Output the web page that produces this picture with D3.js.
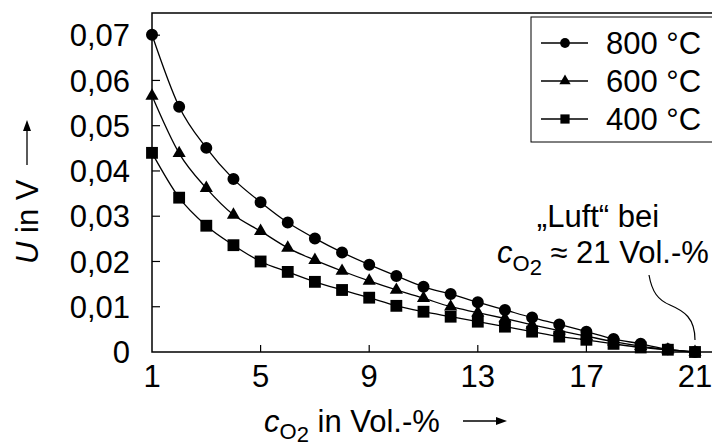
<!DOCTYPE html>
<html>
<head>
<meta charset="utf-8">
<script src="https://cdn.jsdelivr.net/npm/d3@7"></script>
<style>
  body { margin: 0; background: #fff; }
  svg { display: block; font-family: "Liberation Sans", Arial, sans-serif; }
</style>
</head>
<body>
<svg width="712" height="445"></svg>
<script>
// O2 concentration in Vol.-%
var conc = [1,2,3,4,5,6,7,8,9,10,11,12,13,14,15,16,17,18,19,20,21];
var u800 = [0.0701,0.0542,0.0451,0.0382,0.0331,0.0286,0.0251,0.0220,0.0193,0.0168,0.0144,0.0128,0.0110,0.0093,0.0076,0.0061,0.0045,0.0029,0.0018,0.0006,0];
var u600 = [0.0566,0.0439,0.0362,0.0303,0.0267,0.0230,0.0203,0.0179,0.0157,0.0137,0.0119,0.0100,0.0087,0.0074,0.0060,0.0047,0.0035,0.0023,0.0013,0.0005,0];
var u400 = [0.0440,0.0341,0.0279,0.0236,0.0200,0.0177,0.0155,0.0137,0.0120,0.0102,0.0089,0.0078,0.0067,0.0056,0.0045,0.0034,0.0027,0.0018,0.0010,0.0005,0];
var seriesNames = ["800 °C", "600 °C", "400 °C"];
var xTicks = [1,5,9,13,17,21];
var yTicks = [0,0.01,0.02,0.03,0.04,0.05,0.06,0.07];

var svg = d3.select('svg');
var mLeft = 152, mRight = 695, mTop = 13, mBottom = 352;
var fs = 31;

var x = d3.scaleLinear().domain([1, 21]).range([mLeft, mRight]);
var y = d3.scaleLinear().domain([0, 0.0749]).range([mBottom, mTop]);

var series = [
  {name: seriesNames[0], values: u800, shape: d3.symbolCircle, size: 113, lsize: 75},
  {name: seriesNames[1], values: u600, shape: d3.symbolTriangle, size: 75, lsize: 55},
  {name: seriesNames[2], values: u400, shape: d3.symbolSquare, size: 140, lsize: 85}
];

// frame (right side runs off the picture)
svg.append('path')
  .attr('d', 'M730,' + mTop + 'H' + mLeft + 'V' + mBottom + 'H730')
  .attr('fill', 'none')
  .attr('stroke', '#000')
  .attr('stroke-width', 1.5);

// y ticks point inward
svg.selectAll('.ytick')
  .data(yTicks.slice(1))
  .enter()
  .append('line')
  .attr('x1', mLeft).attr('x2', mLeft + 8)
  .attr('y1', d => y(d)).attr('y2', d => y(d))
  .attr('stroke', '#000').attr('stroke-width', 1.2);

svg.selectAll('.ylab')
  .data(yTicks)
  .enter()
  .append('text')
  .attr('x', 130)
  .attr('y', d => y(d))
  .attr('dy', '0.36em')
  .attr('text-anchor', 'end')
  .attr('font-size', fs)
  .text(d => d == 0 ? '0' : d3.format('.2f')(d).replace('.', ','));

svg.selectAll('.xtick')
  .data(xTicks.slice(1, -1))
  .enter()
  .append('line')
  .attr('x1', d => x(d)).attr('x2', d => x(d))
  .attr('y1', mBottom).attr('y2', mBottom - 7)
  .attr('stroke', '#000').attr('stroke-width', 1.2);

svg.selectAll('.xlab')
  .data(xTicks)
  .enter()
  .append('text')
  .attr('x', d => x(d))
  .attr('y', 387)
  .attr('text-anchor', 'middle')
  .attr('font-size', fs)
  .text(d => d);

// curves
var line = d3.line()
  .x((d, i) => x(conc[i]))
  .y(d => y(d))
  .curve(d3.curveMonotoneX);

series.forEach(function(s) {
  svg.append('path')
    .attr('d', line(s.values))
    .attr('fill', 'none')
    .attr('stroke', '#000')
    .attr('stroke-width', 1.3);
});

series.forEach(function(s) {
  svg.append('g')
    .selectAll('path')
    .data(s.values)
    .enter()
    .append('path')
    .attr('d', d3.symbol().type(s.shape).size(s.size))
    .attr('transform', (d, i) => 'translate(' + x(conc[i]) + ',' + y(d) + ')')
    .attr('fill', '#000');
});

// legend
var lg = svg.append('g');
lg.append('rect')
  .attr('x', 531).attr('y', 17)
  .attr('width', 200).attr('height', 125)
  .attr('fill', '#fff')
  .attr('stroke', '#000').attr('stroke-width', 1);
series.forEach(function(s, i) {
  var ly = 43 + i * 38;
  lg.append('line')
    .attr('x1', 541).attr('x2', 588)
    .attr('y1', ly).attr('y2', ly)
    .attr('stroke', '#000').attr('stroke-width', 1.3);
  lg.append('path')
    .attr('d', d3.symbol().type(s.shape).size(s.lsize))
    .attr('transform', 'translate(565,' + ly + ')')
    .attr('fill', '#000');
  lg.append('text')
    .attr('x', 606).attr('y', ly)
    .attr('dy', '0.36em')
    .attr('font-size', fs)
    .text(s.name);
});

// axis titles
var xt = svg.append('text')
  .attr('x', 264).attr('y', 432)
  .attr('font-size', fs);
xt.append('tspan').attr('font-style', 'italic').text('c');
xt.append('tspan').attr('font-size', 22).attr('dy', 7).text('O');
xt.append('tspan').attr('font-size', 22).attr('dy', 3).text('2');
xt.append('tspan').attr('dy', -10).text(' in Vol.-%');

svg.append('line')
  .attr('x1', 463).attr('x2', 498)
  .attr('y1', 421).attr('y2', 421)
  .attr('stroke', '#000').attr('stroke-width', 1.3);
svg.append('path')
  .attr('d', 'M507,421 L496,417 L496,425 Z')
  .attr('fill', '#000');

var yt = svg.append('g').attr('transform', 'translate(38,264) rotate(-90)');
var ytt = yt.append('text').attr('x', 0).attr('y', 0).attr('font-size', fs);
ytt.append('tspan').attr('font-style', 'italic').text('U');
ytt.append('tspan').text(' in V');
yt.append('line')
  .attr('x1', 99).attr('x2', 134)
  .attr('y1', -11).attr('y2', -11)
  .attr('stroke', '#000').attr('stroke-width', 1.3);
yt.append('path')
  .attr('d', 'M144,-11 L133,-15 L133,-7 Z')
  .attr('fill', '#000');

// annotation
svg.append('text')
  .attr('x', 598).attr('y', 227)
  .attr('text-anchor', 'middle')
  .attr('font-size', fs)
  .text('\u201ELuft\u201C bei');
var an = svg.append('text')
  .attr('x', 497).attr('y', 263)
  .attr('font-size', fs);
an.append('tspan').attr('font-style', 'italic').text('c');
an.append('tspan').attr('font-size', 22).attr('dy', 8).text('O');
an.append('tspan').attr('font-size', 22).attr('dy', 4).text('2');
an.append('tspan').attr('dy', -12).text(' \u2248 21 Vol.-%');

svg.append('path')
  .attr('d', 'M649,275 C652,292 658,300 670,305 C684,311 695,318 695,340')
  .attr('fill', 'none')
  .attr('stroke', '#000')
  .attr('stroke-width', 1.2);
</script>
</body>
</html>
